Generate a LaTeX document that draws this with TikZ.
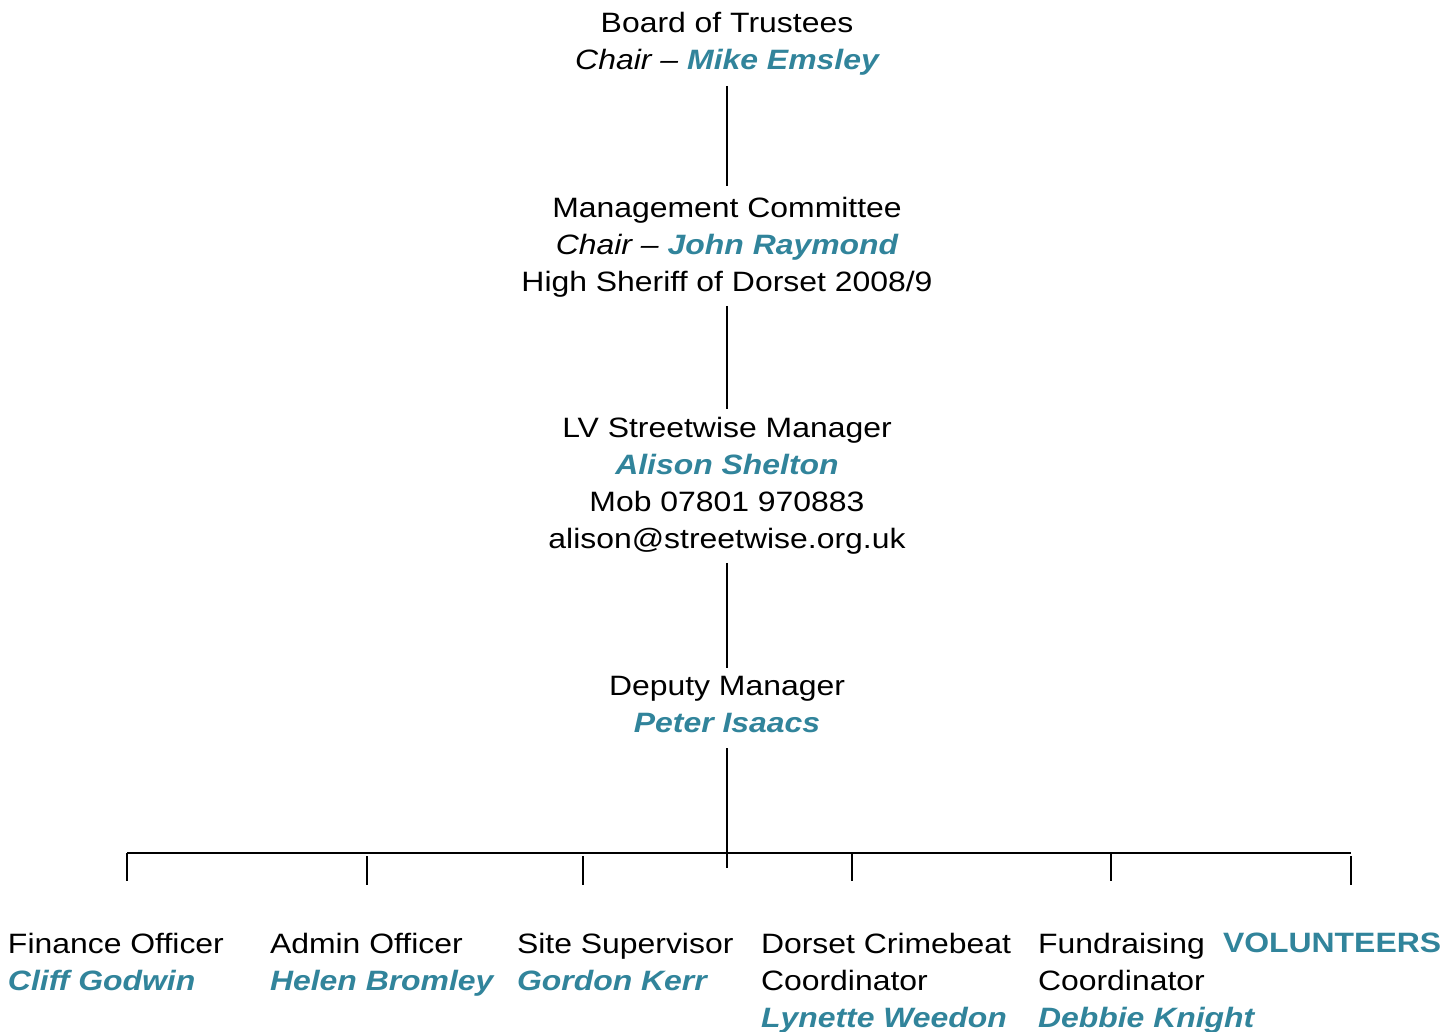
\documentclass[tikz,border=0pt]{standalone}
\usepackage{fontspec}
\setmainfont[FakeStretch=1.14]{Liberation Sans}
\definecolor{nameteal}{RGB}{49,132,155}
\newcommand{\pname}[1]{{\color{nameteal}\bfseries\itshape #1}}
\tikzset{
  box/.style={inner sep=0pt, outer sep=0pt, align=center, anchor=base,
    font=\fontsize{14}{18.5}\selectfont},
  lbox/.style={box, align=left, anchor=base west},
  conn/.style={draw=black, line width=1pt},
}
\begin{document}
\begin{tikzpicture}[x=0.5pt, y=-0.5pt]
\useasboundingbox (0,0) rectangle (1456,1032);

% anchor=base sits on the last line's baseline
\node[box] (board) at (727,70) {Board of Trustees\\\textit{Chair –} \pname{Mike Emsley}};
\node[box] (mgmt) at (727,292) {Management Committee\\\textit{Chair –} \pname{John Raymond}\\High Sheriff of Dorset 2008/9};
\node[box] (mgr) at (727,548) {LV Streetwise Manager\\\pname{Alison Shelton}\\Mob 07801 970883\\alison@streetwise.org.uk};
\node[box] (dep) at (727,732) {Deputy Manager\\\pname{Peter Isaacs}};

\node[lbox] (fin) at (8,990) {Finance Officer\\\pname{Cliff Godwin}};
\node[lbox] (adm) at (270,990) {Admin Officer\\\pname{Helen Bromley}};
\node[lbox] (site) at (517,990) {Site Supervisor\\\pname{Gordon Kerr}};
\node[lbox] (crime) at (761,1027) {Dorset Crimebeat\\Coordinator\\\pname{Lynette Weedon}};
\node[lbox] (fund) at (1038,1027) {Fundraising\\Coordinator\\\pname{Debbie Knight}};
\node[lbox] (vol) at (1223,952) {{\color{nameteal}\bfseries VOLUNTEERS}};

\draw[conn, shorten <=5pt, shorten >=6pt] (board) -- (mgmt);
\draw[conn, shorten <=4pt, shorten >=4pt] (mgmt) -- (mgr);
\draw[conn, shorten <=4.5pt, shorten >=4pt] (mgr) -- (dep);

\coordinate (bc) at (727,868);
\draw[conn, shorten <=8pt] (dep) -- (bc);

\coordinate (bl) at (127,853);
\coordinate (br) at (1351,853);
\draw[conn] (bl) -- (br);

\coordinate (t1) at (127,881);
\coordinate (t2a) at (367,856); \coordinate (t2) at (367,885);
\coordinate (t3a) at (583,856); \coordinate (t3) at (583,885);
\coordinate (t5a) at (852,853); \coordinate (t5) at (852,881);
\coordinate (t6a) at (1111,853); \coordinate (t6) at (1111,881);
\coordinate (t7a) at (1351,856); \coordinate (t7) at (1351,885);
\draw[conn] (bl) -- (t1);
\draw[conn] (t2a) -- (t2);
\draw[conn] (t3a) -- (t3);
\draw[conn] (t5a) -- (t5);
\draw[conn] (t6a) -- (t6);
\draw[conn] (t7a) -- (t7);
\end{tikzpicture}
\end{document}
